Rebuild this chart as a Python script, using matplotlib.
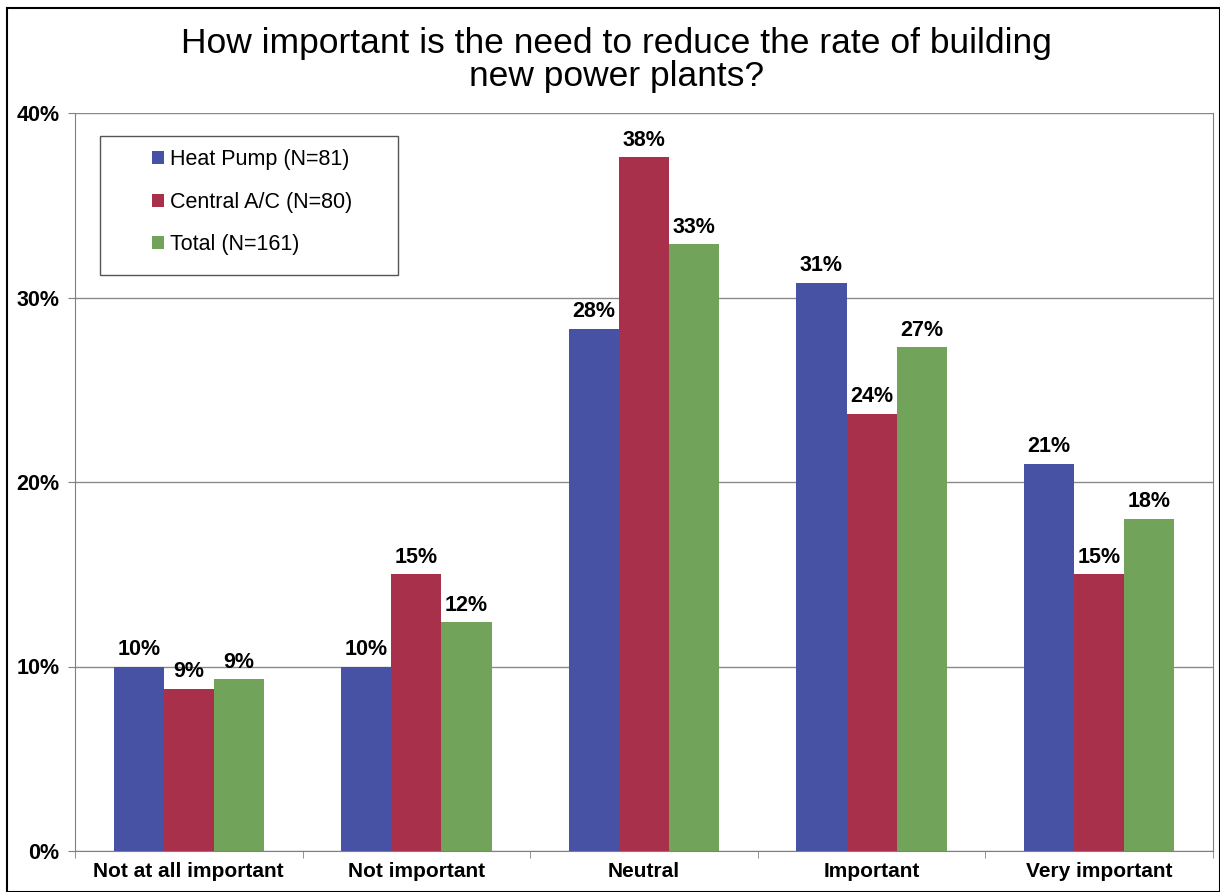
import matplotlib

matplotlib.use("Agg")

import matplotlib.pyplot as plt  # noqa: E402
import numpy as np  # noqa: E402
from matplotlib.patches import Rectangle  # noqa: E402

plt.rcParams["font.family"] = ["Liberation Sans", "DejaVu Sans"]

categories = ["Not at all important", "Not important", "Neutral",
              "Important", "Very important"]
series = ["Heat Pump (N=81)", "Central A/C (N=80)", "Total (N=161)"]
heat_pump = [10.0, 10.0, 28.3, 30.8, 21.0]
central_ac = [8.8, 15.0, 37.6, 23.7, 15.0]
total = [9.3, 12.4, 32.9, 27.3, 18.0]
colors = ["#4852A4", "#A8304A", "#71A45A"]

fig = plt.figure(figsize=(12.2, 8.92), dpi=100)
ax = fig.add_axes([75 / 1220, 1 - 851 / 892, 1138 / 1220, 738 / 892])

x = np.arange(len(categories))
width = 0.22
for i, (vals, name, col) in enumerate(zip([heat_pump, central_ac, total],
                                          series, colors)):
    pos = x + (i - 1) * width
    ax.bar(pos, vals, width, color=col, label=name, zorder=3)
    for px, v in zip(pos, vals):
        ax.text(px, v + 0.35, f"{round(v)}%", ha="center", va="bottom",
                fontsize=15.5, fontweight="bold", zorder=4)

ax.set_xlim(-0.5, len(categories) - 0.5)
ax.set_ylim(0, 40)
ax.set_yticks([0, 10, 20, 30, 40])
ax.set_yticklabels(["0%", "10%", "20%", "30%", "40%"],
                   fontsize=15.5, fontweight="bold")
ax.set_xticks(x)
ax.set_xticklabels(categories, fontsize=15, fontweight="bold")
ax.set_xticks(np.arange(len(categories) + 1) - 0.5, minor=True)
ax.tick_params(axis="x", which="major", length=0, pad=8)
ax.tick_params(axis="x", which="minor", length=5, color="#808080")
ax.tick_params(axis="y", length=5, color="#808080", pad=6)
ax.yaxis.grid(True, color="#8a8a8a", linewidth=1.0, zorder=0)
for side in ["left", "bottom", "right"]:
    ax.spines[side].set_color("#808080")
ax.spines["top"].set_visible(False)

# legend box drawn separately so the wide side padding matches
ax.add_patch(Rectangle((0.022, 0.7805), 0.2618, 0.1883,
                       transform=ax.transAxes, facecolor="white",
                       edgecolor="#555555", linewidth=1.0, zorder=5))
leg = ax.legend(loc="upper left", bbox_to_anchor=(0.0677, 0.951),
                fontsize=15.5, frameon=False,
                handlelength=0.55, handleheight=0.55, handletextpad=0.3,
                labelspacing=1.0, borderpad=0, borderaxespad=0)
leg.set_zorder(6)

fig.suptitle("How important is the need to reduce the rate of building\n"
             "new power plants?", x=0.505, y=0.97, fontsize=25.5,
             linespacing=1.0)

fig.patches.append(Rectangle((7 / 1220, 0), 1 - 7 / 1220, 1 - 8 / 892,
                             transform=fig.transFigure, fill=False,
                             edgecolor="black", linewidth=1.5))

fig.savefig("out.png", dpi=100)
plt.close(fig)
